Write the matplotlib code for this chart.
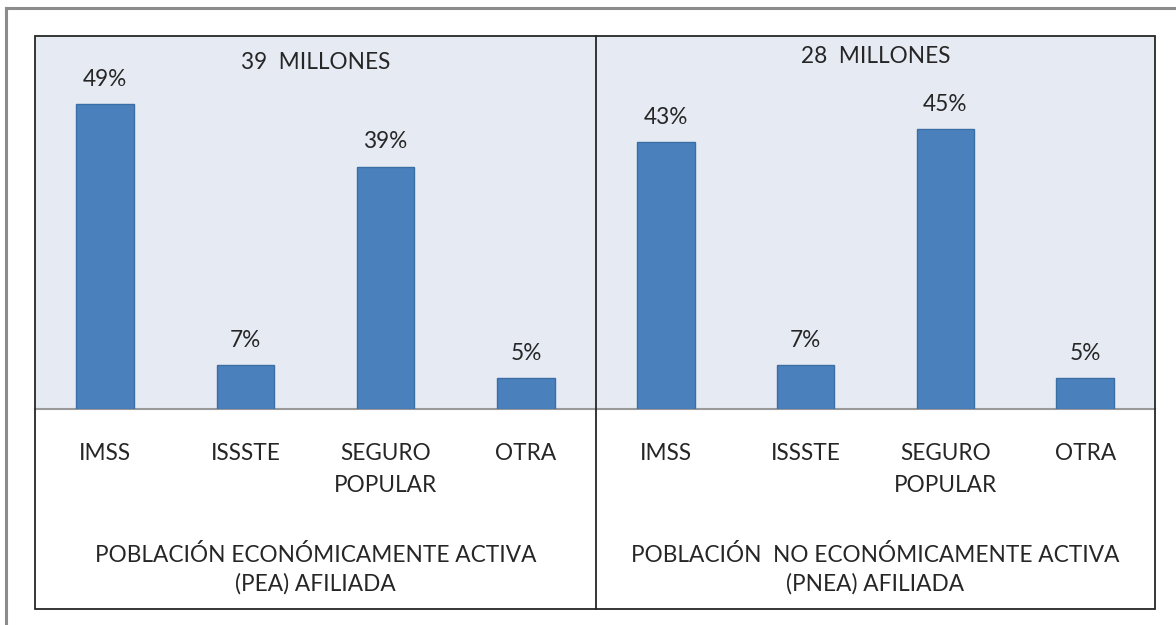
import matplotlib
matplotlib.use("Agg")
import matplotlib.pyplot as plt
from matplotlib.patches import Rectangle
from matplotlib.lines import Line2D
import matplotlib.transforms as mtrans

plt.rcParams['font.family'] = ['Lato', 'DejaVu Sans']

categorias = ['IMSS', 'ISSSTE', 'SEGURO\nPOPULAR', 'OTRA']
pea = [49, 7, 39, 5]
pnea = [43, 7, 45, 5]
etiquetas_pea = ['49%', '7%', '39%', '5%']
etiquetas_pnea = ['43%', '7%', '45%', '5%']
titulos = ['39  MILLONES', '28  MILLONES']
grupos = ['POBLACIÓN ECONÓMICAMENTE ACTIVA\n(PEA) AFILIADA',
          'POBLACIÓN  NO ECONÓMICAMENTE ACTIVA\n(PNEA) AFILIADA']

W, H = 1176, 625
FS = 16.3
BAR = '#4A81BD'; EDGE = '#3B6EA5'; BG = '#E6EAF3'; TXT = '#262626'

fig = plt.figure(figsize=(W / 100, H / 100), dpi=100)
fig.patch.set_facecolor('white')


def fx(px): return px / W
def fy(py): return 1 - py / H


# borde gris exterior (solo arriba e izquierda visibles)
fig.add_artist(Line2D([fx(6), 1.0], [fy(8), fy(8)], color='#8C8C8C', lw=2.2, transform=fig.transFigure))
fig.add_artist(Line2D([fx(6), fx(6)], [fy(8), 0.0], color='#8C8C8C', lw=2.2, transform=fig.transFigure))

base, top = 409, 36
paneles = [(35, 596, pea, etiquetas_pea, titulos[0], grupos[0], 69),
           (596, 1155, pnea, etiquetas_pnea, titulos[1], grupos[1], 63)]


def lineas(ax, x, txt, ys, tr):
    # cada renglón con su propia línea base
    for t, y in zip(txt.split('\n'), ys):
        ax.text(x, fy(y), t, transform=tr, ha='center', va='baseline', fontsize=FS,
                color=TXT, clip_on=False)


for x0, x1, vals, labs, tit, grp, tit_y in paneles:
    ax = fig.add_axes([fx(x0), fy(base), fx(x1 - x0), (base - top) / H])
    ax.set_facecolor(BG)
    xs = range(len(categorias))
    bars = ax.bar(xs, vals, width=0.41, color=BAR, edgecolor=EDGE, lw=1.0, zorder=3)
    ax.set_xlim(-0.5, len(categorias) - 0.5)
    ax.set_ylim(0, 60)
    for s in ['top', 'left', 'right']:
        ax.spines[s].set_visible(False)
    ax.spines['bottom'].set_color('#9A9A9A')
    ax.spines['bottom'].set_linewidth(1.5)
    ax.set_xticks([]); ax.set_yticks([])
    for b, l in zip(bars, labs):
        ax.annotate(l, (b.get_x() + b.get_width() / 2, b.get_height()), xytext=(0, 13),
                    textcoords='offset points', ha='center', va='baseline', fontsize=FS, color=TXT)
    tr = mtrans.blended_transform_factory(ax.transData, fig.transFigure)
    for i, c in enumerate(categorias):
        lineas(ax, i, c, [460, 492], tr)
    trx = mtrans.blended_transform_factory(ax.transAxes, fig.transFigure)
    lineas(ax, 0.5, tit, [tit_y], trx)
    lineas(ax, 0.5, grp, [562, 591], trx)

# marco negro y divisor
fig.add_artist(Rectangle((fx(35), fy(609)), fx(1155 - 35), (609 - 36) / H, fill=False,
                         edgecolor=TXT, lw=1.3, transform=fig.transFigure, zorder=5))
fig.add_artist(Line2D([fx(596), fx(596)], [fy(36), fy(609)], color=TXT, lw=1.3,
                      transform=fig.transFigure, zorder=5))

fig.savefig('out.png', dpi=100)
